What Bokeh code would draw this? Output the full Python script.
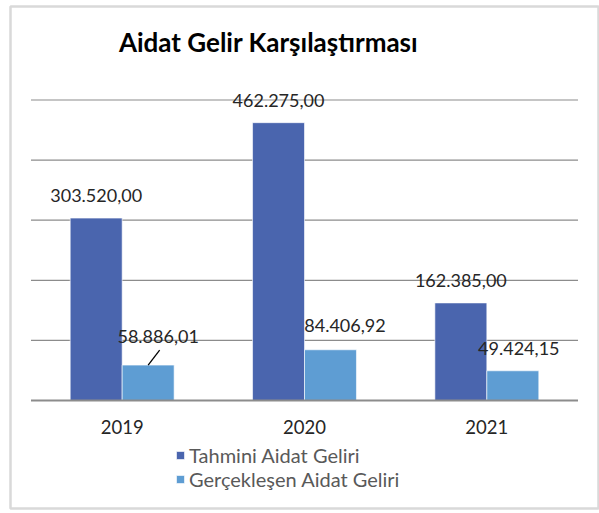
from bokeh.plotting import figure
from bokeh.models import (ColumnDataSource, FactorRange, Range1d,
                          LabelSet, Label, Legend, LegendItem)
from bokeh.transform import dodge
from bokeh.core.properties import value
from bokeh.embed import file_html
from bokeh.resources import INLINE

# ---------------- data ----------------
years = ["2019", "2020", "2021"]
tahmini = [303520.00, 462275.00, 162385.00]
gerceklesen = [58886.01, 84406.92, 49424.15]
tahmini_labels = ["303.520,00", "462.275,00", "162.385,00"]
gerceklesen_labels = ["58.886,01", "84.406,92", "49.424,15"]
grid_ticks = [0, 100000, 200000, 300000, 400000, 500000]
series_names = ["Tahmini Aidat Geliri", "Gerçekleşen Aidat Geliri"]
title_text = "Aidat Gelir Karşılaştırması"

# ---------------- layout / style ----------------
FONT = "Lato"
DARK = "#4A65AE"
LIGHT = "#5E9DD3"
GRID = "#8C8C8C"
W, H = 599, 513
MB_LEFT, MB_TOP, MB_RIGHT, MB_BOTTOM = 10, 6, 1, 5
FRAME_H = H - MB_TOP - MB_BOTTOM
BASE_FROM_TOP = 394               # baseline position (px from frame top)
PX_PER_UNIT = 300.5 / 500000      # vertical scale
UNIT_PX = 182.33                  # px per category
PAD = 20.5 / UNIT_PX              # horizontal padding inside the box
BAR_W = 0.285
DODGE = 0.1425

# label nudges in pixels (Excel manual positions)
dark_dx = [0, 0, 0]
dark_dy = [22.5, 22.5, 22.5]
light_dx = [10, 14.5, 6]
light_dy = [28.5, 24, 22]

src = ColumnDataSource(dict(
    year=years, tahmini=tahmini, gerceklesen=gerceklesen,
    tl=tahmini_labels, gl=gerceklesen_labels,
    ddx=dark_dx, ddy=dark_dy, ldx=light_dx, ldy=light_dy,
))

x_range = FactorRange(*years, range_padding=PAD, range_padding_units="absolute")
y_range = Range1d(-(FRAME_H - BASE_FROM_TOP) / PX_PER_UNIT, BASE_FROM_TOP / PX_PER_UNIT)

p = figure(x_range=x_range, y_range=y_range,
           width=W, height=H, output_backend="svg", toolbar_location=None,
           min_border=0, min_border_left=MB_LEFT, min_border_right=MB_RIGHT,
           min_border_top=MB_TOP, min_border_bottom=MB_BOTTOM,
           background_fill_color="white", border_fill_color="white")
p.xaxis.visible = False
p.yaxis.visible = False
p.xgrid.visible = False
p.ygrid.visible = False
p.outline_line_color = "#D9D9D9"
p.outline_line_width = 2.5

# gridlines spanning the category area
gsrc = ColumnDataSource(dict(x0=[years[0]] * (len(grid_ticks) - 1),
                             x1=[years[-1]] * (len(grid_ticks) - 1),
                             y=grid_ticks[1:]))
p.segment(x0=dodge("x0", -0.5, range=x_range), x1=dodge("x1", 0.5, range=x_range),
          y0="y", y1="y", source=gsrc, line_color=GRID, line_width=1.2)
bsrc = ColumnDataSource(dict(x0=[years[0]], x1=[years[-1]], y=grid_ticks[:1]))

r1 = p.vbar(x=dodge("year", -DODGE, range=x_range), top="tahmini", width=BAR_W,
            source=src, fill_color=DARK, line_color="white", line_alpha=0.6, line_width=1)
r2 = p.vbar(x=dodge("year", DODGE, range=x_range), top="gerceklesen", width=BAR_W,
            source=src, fill_color=LIGHT, line_color="white", line_alpha=0.6, line_width=1)

# baseline (category axis line)
p.segment(x0=dodge("x0", -0.5, range=x_range), x1=dodge("x1", 0.5, range=x_range),
          y0="y", y1="y", source=bsrc, line_color=GRID, line_width=2)

# category labels
p.add_layout(LabelSet(x="year", y=grid_ticks[0], text="year", source=src, y_offset=-26,
                      text_font=value(FONT), text_font_size="18.5px", text_color="#262626",
                      text_align="center", text_baseline="middle"))

# data labels
lab_kw = dict(source=src, text_font=value(FONT), text_font_size="18px",
              text_color="#262626", text_align="center", text_baseline="middle")
p.add_layout(LabelSet(x=dodge("year", -DODGE, range=x_range), y="tahmini", text="tl",
                      x_offset="ddx", y_offset="ddy", **lab_kw))
p.add_layout(LabelSet(x=dodge("year", DODGE, range=x_range), y="gerceklesen", text="gl",
                      x_offset="ldx", y_offset="ldy", **lab_kw))

# leader line for the first light-bar label
lead = ColumnDataSource(dict(year=years[:1], gerceklesen=gerceklesen[:1]))
p.segment(x0=dodge("year", DODGE, range=x_range), y0="gerceklesen",
          x1=dodge("year", DODGE + 11.5 / UNIT_PX, range=x_range),
          y1=dodge("gerceklesen", 15 / PX_PER_UNIT),
          source=lead, line_color="black", line_width=1.3)

# title
p.add_layout(Label(x=108.4 / UNIT_PX - PAD, y=359 / PX_PER_UNIT, text=title_text,
                   text_font=FONT, text_font_size="26px", text_font_style="bold",
                   text_color="#000000", text_baseline="middle", text_align="left"))

# legend
legend = Legend(items=[LegendItem(label=series_names[0], renderers=[r1]),
                       LegendItem(label=series_names[1], renderers=[r2])],
                location=(165, 17), orientation="vertical",
                glyph_width=10, glyph_height=10, label_standoff=4, spacing=0,
                label_height=22, padding=5, margin=0,
                label_text_font=FONT, label_text_font_size="20px",
                label_text_color="#595959",
                border_line_color=None, background_fill_alpha=0)
p.add_layout(legend, "center")

open("out.html", "w").write(file_html(p, INLINE))
